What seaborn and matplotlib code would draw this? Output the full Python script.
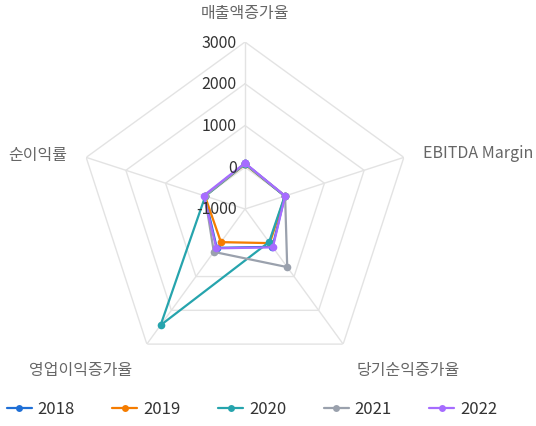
import numpy as np
import pandas as pd
import seaborn as sns
import matplotlib
matplotlib.use("Agg")
import matplotlib.pyplot as plt
from matplotlib.lines import Line2D

categories = ["매출액증가율", "EBITDA Margin", "당기순익증가율", "영업이익증가율", "순이익률"]
years = ["2018", "2019", "2020", "2021", "2022"]
v2018 = [90, 5, 120, 150, 15]
v2019 = [70, 5, 10, -20, 10]
v2020 = [80, 0, -20, 2440, 0]
v2021 = [90, 10, 720, 270, 10]
v2022 = [100, 10, 135, 165, 40]
tick_values = [3000, 2000, 1000, 0, -1000]
colors = ["#1f6fd6", "#f57c00", "#26a4ad", "#9aa1ad", "#a66cff"]

series = [v2018, v2019, v2020, v2021, v2022]

sns.set_style("white")
plt.rcParams["font.family"] = ["Noto Sans CJK KR", "DejaVu Sans"]

n = len(categories)
angles = np.linspace(0, 2 * np.pi, n, endpoint=False)

rows = []
for y, vals in zip(years, series):
    for i in range(n + 1):
        k = i % n
        rows.append({"year": y, "theta": angles[k] if i < n else 2 * np.pi,
                     "value": vals[k], "order": i})
df = pd.DataFrame(rows)

fig = plt.figure(figsize=(5.36, 4.27), dpi=100)
ax = fig.add_axes([78 / 536, 50 / 427, 334 / 536, 334 / 427], projection="polar")
ax.set_theta_offset(np.pi / 2)
ax.set_theta_direction(-1)
ax.set_ylim(-1000, 3000)
ax.grid(False)
ax.spines["polar"].set_visible(False)
ax.set_xticks([])
ax.set_yticks([])

grid_c = "#e3e3e3"
closed = np.append(angles, angles[0])
for r in [0, 1000, 2000, 3000]:
    ax.plot(closed, [r] * (n + 1), color=grid_c, lw=1, zorder=0)
for a in angles:
    ax.plot([a, a], [-1000, 3000], color=grid_c, lw=1, zorder=0)

sns.lineplot(data=df, x="theta", y="value", hue="year", palette=colors,
             sort=False, estimator=None, marker="o", markersize=5.5,
             markeredgewidth=0, linewidth=1.6, legend=False, ax=ax, zorder=3)
ax.set_xlabel("")
ax.set_ylabel("")

for v in tick_values:
    ax.annotate(str(v), xy=(0, v), xytext=(-6, 0), textcoords="offset points",
                ha="right", va="center", fontsize=11.5, color="#333333", zorder=5)

offsets = [((0, 21), "center", "center"),
           ((13.5, 3.6), "left", "center"),
           ((10, -18), "left", "center"),
           ((-10.5, -18), "right", "center"),
           ((-14, 2), "right", "center")]
for a, lab, (off, ha, va) in zip(angles, categories, offsets):
    ax.annotate(lab, xy=(a, 3000), xytext=off, textcoords="offset points",
                ha=ha, va=va, fontsize=11.5, color="#666666")

handles = [Line2D([0], [0], color=c, lw=1.6, marker="o", markersize=5, markeredgewidth=0)
           for c in colors]
fig.legend(handles, years, loc="center", bbox_to_anchor=(252 / 536, 1 - 410 / 427),
           ncol=5, frameon=False, fontsize=12, handlelength=1.5,
           columnspacing=2.25, handletextpad=0.35, labelcolor="#333333")

fig.savefig("out.png", dpi=100)
